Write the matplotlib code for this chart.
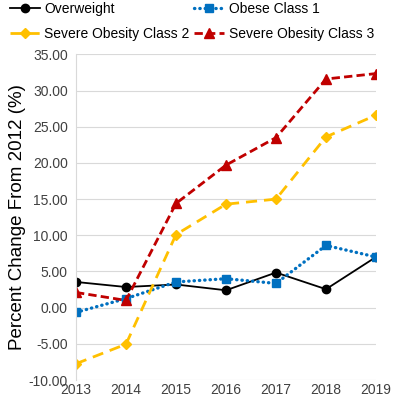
import matplotlib
matplotlib.use('Agg')
import matplotlib.pyplot as plt

plt.rcParams['font.family'] = ['Liberation Sans', 'DejaVu Sans']

years = [2013, 2014, 2015, 2016, 2017, 2018, 2019]
overweight = [3.55, 2.85, 3.2, 2.4, 4.85, 2.55, 7.0]
obese_1 = [-0.65, 1.25, 3.55, 4.0, 3.35, 8.6, 7.0]
severe_2 = [-7.75, -5.05, 10.1, 14.3, 15.0, 23.6, 26.6]
severe_3 = [2.1, 1.0, 14.4, 19.7, 23.5, 31.6, 32.35]

fig = plt.figure(figsize=(4, 4), dpi=100)
ax = fig.add_axes([0.19, 0.05, 0.75, 0.814])

l1, = ax.plot(years, overweight, color='black', marker='o', markersize=6, linewidth=1.3, label='Overweight')
l2, = ax.plot(years, obese_1, color='#0070C0', marker='s', markersize=6, linewidth=2.4,
              linestyle=(0, (0.1, 1.5)), dash_capstyle='round', label='Obese Class 1')
l3, = ax.plot(years, severe_2, color='#FFC000', marker='D', markersize=5, linewidth=2,
              linestyle=(0, (4, 2.5)), label='Severe Obesity Class 2')
l4, = ax.plot(years, severe_3, color='#C00000', marker='^', markersize=7, linewidth=2,
              linestyle=(0, (3, 1.5)), label='Severe Obesity Class 3')

ax.set_xlim(2013, 2019)
ax.set_ylim(-10, 35)
ax.set_yticks(range(-10, 36, 5))
ax.set_yticklabels(['%.2f' % v for v in range(-10, 36, 5)], fontsize=10)
ax.set_xticks(years)
ax.set_xticklabels([str(y) for y in years], fontsize=10)
ax.tick_params(axis='y', length=0, pad=6)
ax.tick_params(axis='x', length=0, pad=2)
ax.yaxis.grid(True, color='#d9d9d9', linewidth=0.8)
ax.set_axisbelow(True)
for s in ['top', 'right', 'bottom']:
    ax.spines[s].set_visible(False)
ax.spines['left'].set_color('#d9d9d9')
ax.set_ylabel('Percent Change From 2012 (%)', fontsize=13.5)
ax.yaxis.set_label_coords(-0.165, 0.5)
for lbl in ax.get_yticklabels() + ax.get_xticklabels():
    lbl.set_color('#404040')

fig.legend([l1, l3, l2, l4], [l.get_label() for l in [l1, l3, l2, l4]],
           loc='upper left', bbox_to_anchor=(0.01, 1.008), ncol=2, frameon=False,
           fontsize=10, handlelength=2.2, columnspacing=0.3, handletextpad=0.3,
           labelspacing=0.75, borderaxespad=0)

fig.savefig('out.png', dpi=100)
